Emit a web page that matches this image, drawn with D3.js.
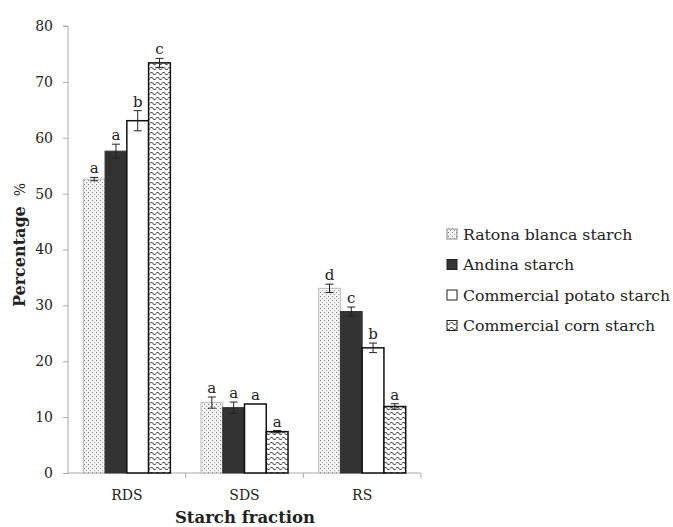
<!DOCTYPE html>
<html><head><meta charset="utf-8">
<script src="https://cdn.jsdelivr.net/npm/d3@7"></script>
<style>body{margin:0;background:#fff;} text{font-family:"DejaVu Serif","Liberation Serif",serif;fill:#222;}</style>
</head><body><svg id="c" width="673" height="527"></svg>
<script>
const categories = ["RDS", "SDS", "RS"];
const series = ["Ratona blanca starch", "Andina starch", "Commercial potato starch", "Commercial corn starch"];
const values = [
  [52.6, 12.6, 33.05],
  [57.6, 11.7, 28.9],
  [63.05, 12.35, 22.4],
  [73.4, 7.4, 11.9]
];
const errors = [
  [0.3, 1.0, 0.75],
  [1.25, 1.0, 0.8],
  [1.8, 0.0, 0.85],
  [0.8, 0.2, 0.5]
];
const letters = [
  ["a", "a", "d"],
  ["a", "a", "c"],
  ["b", "a", "b"],
  ["c", "a", "a"]
];
const yTicks = [0, 10, 20, 30, 40, 50, 60, 70, 80];

const svg = d3.select("#c");
const defs = svg.append("defs");
// dotted pattern
const pd = defs.append("pattern").attr("id","dots").attr("patternUnits","userSpaceOnUse").attr("width",4).attr("height",4);
pd.append("rect").attr("width",4).attr("height",4).attr("fill","#f4f4f4");
pd.append("rect").attr("x",0).attr("y",0).attr("width",1).attr("height",1).attr("fill","#777");
pd.append("rect").attr("x",2).attr("y",2).attr("width",1).attr("height",1).attr("fill","#999");
// wave pattern
const pw = defs.append("pattern").attr("id","wave").attr("patternUnits","userSpaceOnUse").attr("width",6).attr("height",5);
pw.append("rect").attr("width",6).attr("height",5).attr("fill","#fff");
pw.append("path").attr("d","M0,3.5 Q1.5,0.5 3,3.5 T6,3.5").attr("fill","none").attr("stroke","#111").attr("stroke-width",1);

const fills = ["url(#dots)", "#333", "#fff", "url(#wave)"];
const strokes = ["#bbb", "#333", "#111", "#111"];
const strokeW = [1, 1, 1.5, 1.5];

const x0 = d3.scaleBand().domain(categories).range([68, 421]).paddingInner(0.26).paddingOuter(0.13);
const x1 = d3.scaleBand().domain(d3.range(series.length)).range([0, x0.bandwidth()]);
const y = d3.scaleLinear().domain([0, 80]).range([473, 26]);

// axes
const yAxis = svg.append("g").attr("transform","translate(68,0)").call(d3.axisLeft(y).tickValues(yTicks).tickSize(5).tickPadding(10));
yAxis.selectAll("path,line").attr("stroke","#aaa");
yAxis.selectAll("text").style("font-size","14px").attr("fill","#333");
yAxis.select(".domain").attr("d","M-5,26H0V473");

const xBound = d3.scaleLinear().domain([0,3]).range([68, 421]);
svg.append("line").attr("x1",68).attr("x2",421).attr("y1",473).attr("y2",473).attr("stroke","#aaa");
svg.selectAll(".xt").data([1,2,3]).enter().append("line")
  .attr("x1",d=>xBound(d)).attr("x2",d=>xBound(d)).attr("y1",473).attr("y2",478).attr("stroke","#aaa");
svg.selectAll(".xl").data(categories).enter().append("text")
  .attr("x",d=>x0(d)+x0.bandwidth()/2).attr("y",500).attr("text-anchor","middle").style("font-size","14px").text(d=>d);

// bars
series.forEach((s, si) => {
  const g = svg.append("g");
  categories.forEach((c, ci) => {
    const v = values[si][ci], e = errors[si][ci];
    const bx = x0(c) + x1(si);
    const bw = x1.bandwidth();
    g.append("rect").attr("x",bx).attr("y",y(v)).attr("width",bw).attr("height",y(0)-y(v))
      .attr("fill",fills[si]).attr("stroke",strokes[si]).attr("stroke-width",strokeW[si]);
    const cx = bx + bw/2;
    if (e > 0) {
      g.append("line").attr("x1",cx).attr("x2",cx).attr("y1",y(v+e)).attr("y2",y(v-e)).attr("stroke","#222");
      [v+e, v-e].forEach(t => g.append("line").attr("x1",cx-4).attr("x2",cx+4).attr("y1",y(t)).attr("y2",y(t)).attr("stroke","#222"));
    }
    g.append("text").attr("x",cx).attr("y",y(v+e)-4).attr("text-anchor","middle").style("font-size","15px").text(letters[si][ci]);
  });
});

// axis titles
const yt = svg.append("text").attr("transform","translate(25,245) rotate(-90)").attr("text-anchor","middle")
  .style("font-size","16px");
yt.append("tspan").style("font-weight","bold").text("Percentage");
yt.append("tspan").attr("dx",10).style("font-size","14px").text("%");
svg.append("text").attr("x",245).attr("y",523).attr("text-anchor","middle")
  .style("font-size","16.5px").style("font-weight","bold").text("Starch fraction");

// legend
const lg = svg.append("g");
series.forEach((s, si) => {
  const ly = 234 + si * 30.5;
  lg.append("rect").attr("x",447).attr("y",ly-5).attr("width",10).attr("height",10)
    .attr("fill",fills[si]).attr("stroke",si===0?"#888":"#222").attr("stroke-width",1);
  lg.append("text").attr("x",463).attr("y",ly+5.5).style("font-size","15.7px").text(s);
});
</script></body></html>
